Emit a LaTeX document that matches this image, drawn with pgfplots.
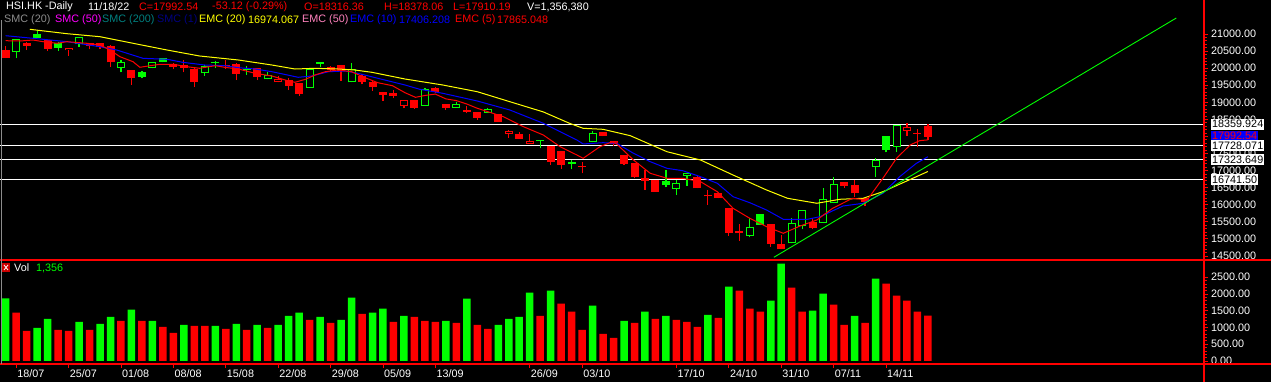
\documentclass[border=0pt]{standalone}
\usepackage{fontspec}
\setmainfont{Liberation Sans}
\usepackage{pgfplots}
\pgfplotsset{compat=1.18}
\usepackage{pgfplotstable}
\definecolor{cg}{RGB}{0,255,0}
\definecolor{cr}{RGB}{255,0,0}
\definecolor{cy}{RGB}{255,255,0}
\definecolor{cb}{RGB}{0,0,255}
\definecolor{cgray}{RGB}{140,140,140}
\definecolor{cmag}{RGB}{255,0,255}
\definecolor{cteal}{RGB}{0,128,128}
\definecolor{cnavy}{RGB}{0,0,128}
\definecolor{cpink}{RGB}{255,130,190}
\newcommand\ff{\fontsize{10.8}{12}\selectfont}

% candles: i open high low close
\pgfplotstableread{
i o h l c
0 20530 20650 20290 20290
2 20746 20756 20531 20658
4 20824 20824 20502 20561
8 20746 20746 20551 20649
9 20746 20746 20561 20619
10 20658 20678 20043 20170
12 19946 19946 19507 19702
16 20112 20151 19965 20043
17 20092 20239 19877 20014
18 19975 19995 19458 19604
21 20090 20239 19975 20060
22 20122 20141 19653 19829
24 19995 20014 19653 19751
27 19653 19702 19360 19487
28 19575 19575 19194 19243
31 20034 20063 19917 19946
32 20092 20092 19624 19917
34 19770 19819 19526 19604
35 19604 19653 19341 19458
36 19292 19292 19048 19214
37 19272 19360 19116 19185
39 19058 19058 18814 18843
41 19409 19458 19263 19312
42 18950 18950 18775 18843
44 18775 18892 18677 18716
45 18716 18716 18482 18550
47 18658 18658 18433 18433
49 18082 18140 17926 17926
52 17721 17721 17164 17262
53 17574 17574 17057 17164
55 17106 17242 16920 17096
57 18140 18140 18003 18023
58 17867 17867 17720 17769
59 17457 17457 17164 17193
60 17232 17232 16774 16803
61 16774 17018 16432 16705
62 16725 16725 16383 16383
66 16803 16871 16481 16481
67 16266 16432 15993 16246
68 16334 16334 16190 16207
69 15915 15915 15085 15183
70 15241 15437 14949 15163
73 15437 15437 14773 14851
74 14851 15114 14695 14695
77 15505 15602 15280 15329
80 16676 16676 16500 16549
81 16578 16725 16217 16334
82 16188 16188 15963 16090
87 18100 18208 17700 18072
88 18316 18378 17910 17993
}\rf
\pgfplotstableread{
i o h l c
3 20990 21117 20873 20893
5 20727 20775 20512 20600
13 19897 19917 19702 19751
15 20287 20307 20170 20190
20 20190 20219 20014 20150
23 19975 20063 19800 19936
30 20170 20170 20043 20131
51 17890 17896 17652 17870
63 16705 17018 16510 16578
72 15729 15729 15407 15407
84 18013 18013 17530 17603
}\gf
\pgfplotstableread{
i o h l c
1 20483 20844 20288 20844
7 20697 20922 20629 20902
11 20014 20239 19877 20170
14 20014 20190 19995 20170
19 19848 20092 19780 20073
25 19673 19878 19673 19800
29 19429 19995 19429 19965
33 19585 20141 19585 19975
40 18902 19409 18902 19380
43 18843 18999 18843 18941
46 18697 18843 18697 18794
54 17184 17311 17038 17243
56 17828 18170 17828 18091
64 16461 16725 16285 16627
65 16842 16920 16549 16920
71 15095 15602 15046 15339
75 14870 15602 14870 15456
76 15378 15846 15280 15846
78 15456 16481 15456 16159
79 16042 16803 16042 16608
83 17115 17359 16822 17310
85 17681 18335 17553 18335
}\gh
\pgfplotstableread{
i o h l c
6 20522 20600 20365 20600
26 19585 19780 19585 19683
38 18902 19058 18824 19058
48 18082 18189 17965 18160
50 17789 18062 17789 17867
86 18169 18384 18023 18266
}\rh
% volume
\pgfplotstableread{
i v
0 1870
3 990
4 1260
7 1170
9 1110
10 1320
12 1530
14 1200
17 1080
20 1050
22 1110
24 1080
26 1080
27 1350
28 1440
30 1320
32 1230
33 1890
35 1440
36 1560
38 1350
42 1200
44 1860
47 1080
48 1260
49 1320
50 2040
52 2100
56 1650
59 1200
61 1470
63 1350
67 1380
69 2220
73 1800
74 2910
77 1500
78 2010
81 1350
83 2460
}\vg
\pgfplotstableread{
i v
1 1440
2 900
5 930
6 900
8 930
11 1200
13 1200
15 1020
16 840
18 1050
19 1050
21 960
23 930
25 990
29 1230
31 1140
34 1410
37 1170
39 1320
40 1200
41 1170
43 1140
45 1080
46 960
51 1350
53 1710
54 1470
55 930
57 810
58 690
60 1140
62 1260
64 1230
65 1170
66 1020
68 1290
70 2100
71 1560
72 1470
75 2190
76 1470
79 1680
80 1080
82 1140
84 2310
85 1950
86 1800
87 1470
88 1356
}\vr

\pgfplotsset{
  wick/.style={draw=none, mark=none, forget plot,
    error bars/.cd, y dir=plus, y explicit, error mark=none,
    error bar style={draw=#1, line width=1.2pt}},
  body/.style={draw=none, mark=none, forget plot,
    error bars/.cd, y dir=plus, y explicit, error mark=none,
    error bar style={draw=#1, line width=8pt}},
  inner/.style={draw=none, mark=none, forget plot,
    error bars/.cd, y dir=plus, y explicit, error mark=none,
    error bar style={draw=black, line width=6pt}},
}

\begin{document}
\begin{tikzpicture}
\fill[black] (0,0) rectangle (1271pt,382pt);
\path[use as bounding box] (0,0) rectangle (1271pt,382pt);
\clip (0,0) rectangle (1271pt,382pt);

% ---------------- price panel ----------------
\begin{axis}[
  at={(0pt,122pt)}, anchor=south west, scale only axis,
  width=1204pt, height=260pt,
  xmin=-0.544, xmax=114.34, ymin=14382, ymax=21996,
  axis x line=none, axis y line*=right,
  axis line style={-, draw=cr, line width=2pt},
  tick align=outside, major tick length=4pt, minor tick length=2.5pt,
  tick style={draw=cr, line width=0.8pt},
  ytick={14500,15000,...,21000},
  yticklabels={14500.00,15000.00,15500.00,16000.00,16500.00,17000.00,17500.00,18000.00,18500.00,19000.00,19500.00,20000.00,20500.00,21000.00},
  minor y tick num=4,
  yticklabel style={text=white, font=\ff, anchor=west, inner sep=0pt, xshift=3pt},
]
% support/resistance lines
\addplot[white, line width=1pt, forget plot] coordinates {(-1,18359.924) (114.34,18359.924)};
\addplot[white, line width=1pt, forget plot] coordinates {(-1,17728.071) (114.34,17728.071)};
\addplot[white, line width=1pt, forget plot] coordinates {(-1,17323.649) (114.34,17323.649)};
\addplot[white, line width=1pt, forget plot] coordinates {(-1,16741.50) (114.34,16741.50)};

% wicks
\addplot[wick=cr] table[x=i, y=l, y error expr=\thisrow{h}-\thisrow{l}] {\rf};
\addplot[wick=cg] table[x=i, y=l, y error expr=\thisrow{h}-\thisrow{l}] {\gf};
\addplot[wick=cg] table[x=i, y=l, y error expr=\thisrow{h}-\thisrow{l}] {\gh};
\addplot[wick=cr] table[x=i, y=l, y error expr=\thisrow{h}-\thisrow{l}] {\rh};
% bodies
\addplot[body=cr] table[x=i, y expr={min(\thisrow{o},\thisrow{c})}, y error expr={max(abs(\thisrow{o}-\thisrow{c}),30)}] {\rf};
\addplot[body=cg] table[x=i, y expr={min(\thisrow{o},\thisrow{c})}, y error expr={max(abs(\thisrow{o}-\thisrow{c}),30)}] {\gf};
\addplot[body=cg] table[x=i, y expr={min(\thisrow{o},\thisrow{c})}, y error expr={max(abs(\thisrow{o}-\thisrow{c}),30)}] {\gh};
\addplot[body=cr] table[x=i, y expr={min(\thisrow{o},\thisrow{c})}, y error expr={max(abs(\thisrow{o}-\thisrow{c}),30)}] {\rh};
\addplot[inner] table[x=i, y expr={min(\thisrow{o},\thisrow{c})+30}, y error expr={max(abs(\thisrow{o}-\thisrow{c})-60,0)}] {\gh};
\addplot[inner] table[x=i, y expr={min(\thisrow{o},\thisrow{c})+30}, y error expr={max(abs(\thisrow{o}-\thisrow{c})-60,0)}] {\rh};

% EMC (20)
\addplot[cy, line width=1pt] coordinates {(2.3,21138) (5.85,21009) (9.0,20921) (12.15,20728) (15.4,20531) (18.5,20356) (22.2,20239) (25.4,20092) (27.6,19975) (29.5,19996) (31.7,19975) (33.3,19946) (34.95,19878) (38.1,19682) (41.7,19507) (45.0,19310) (48.1,19018) (51.3,18718) (53.8,18385) (55.1,18238) (57.0,18209) (59.6,18022) (63.1,17553) (66.3,17310) (69.4,16871) (72.6,16432) (74.6,16189) (77.4,16043) (79.6,16160) (81.8,16189) (83.7,16382) (88,16974)};
% EMC (10)
\addplot[cb, line width=1pt] coordinates {(0,20950) (2.6,20874) (5.85,20775) (9.0,20628) (10.6,20531) (13.1,20288) (15.4,20259) (16.9,20171) (19.0,20092) (20.9,20072) (22.2,20013) (23.8,19975) (25.4,19896) (26.9,19799) (27.9,19732) (29.2,19770) (30.8,19896) (32.4,19917) (33.6,19849) (35.5,19703) (38.1,19507) (39.5,19381) (41.7,19264) (45.0,19038) (48.1,18775) (51.3,18385) (54.5,17896) (55.1,17780) (57.0,17817) (58.3,17800) (59.9,17507) (61.5,17261) (63.1,17067) (64.6,16997) (66.3,16821) (67.9,16628) (69.4,16236) (71.0,16060) (72.6,15846) (74.2,15574) (76.5,15574) (77.7,15650) (79.9,15963) (81.8,16042) (83.7,16335) (85.3,16821) (86.9,17214) (88,17407)};
% EMC (5)
\addplot[cr, line width=1pt] coordinates {(0,20804) (1.36,20795) (2.6,20824) (3.56,20775) (4.9,20728) (5.85,20775) (7.76,20728) (9.0,20678) (9.95,20531) (10.9,20335) (12.15,20189) (12.8,20025) (13.8,20072) (14.7,20113) (16.0,20113) (17.3,20042) (18.5,19996) (20.0,20072) (20.9,20025) (22.2,19975) (23.8,19849) (25.4,19770) (26.9,19632) (27.6,19586) (28.6,19673) (29.5,19799) (30.5,19896) (31.7,19946) (33.0,19896) (34.3,19720) (35.5,19574) (36.9,19486) (38.1,19281) (39.1,19146) (40.0,19200) (41,19240) (42,19100) (43,19050) (44,18950) (45,18824) (47.5,18578) (49.4,18285) (51.3,18042) (52.9,17700) (54.5,17457) (55.1,17360) (56.7,17700) (57.9,17846) (58.3,17780) (59.9,17310) (61.5,16921) (63.1,16775) (64.6,16775) (66.3,16675) (67.9,16382) (69.4,15896) (71.0,15603) (72.6,15357) (74.2,15164) (75.8,15378) (77.4,15554) (78.9,15896) (80.8,16189) (82.2,16139) (83.7,16775) (85.0,17360) (86.3,17750) (87.2,17876) (88,17900)};
% trend line
\addplot[cg, line width=0.9pt] coordinates {(73.3,14461) (111.7,21469)};
\end{axis}

% ---------------- volume panel ----------------
\begin{axis}[
  at={(0pt,18pt)}, anchor=south west, scale only axis,
  width=1204pt, height=103pt,
  xmin=-0.544, xmax=114.34, ymin=-90, ymax=2985,
  axis x line*=bottom, axis y line*=right,
  axis line style={-, draw=cr, line width=2pt},
  tick align=outside, major tick length=4pt, minor tick length=2.5pt,
  tick style={draw=cr, line width=0.8pt},
  ytick={0,500,...,2500},
  yticklabels={0.00,500.00,1000.00,1500.00,2000.00,2500.00},
  minor y tick num=4,
  yticklabel style={text=white, font=\ff, anchor=west, inner sep=0pt, xshift=3pt},
  xtick={1,6,11,16,21,26,31,36,41,50,55,64,69,74,79,84},
  xticklabels={18/07,25/07,01/08,08/08,15/08,22/08,29/08,05/09,13/09,26/09,03/10,17/10,24/10,31/10,07/11,14/11},
  xticklabel style={text=white, font=\ff, anchor=north west, inner sep=0pt, xshift=1pt, yshift=-1pt},
]
\addplot[ybar, bar width=7.5pt, fill=cg, draw=none] table[x=i, y=v] {\vg};
\addplot[ybar, bar width=7.5pt, fill=cr, draw=none] table[x=i, y=v] {\vr};
\end{axis}

% frame lines
\draw[cr, line width=1.5pt] (0,122pt) -- (1271pt,122pt);
\draw[cr, line width=1.5pt] (0,18pt) -- (1271pt,18pt);
\draw[cr, line width=2pt] (1204pt,0) -- (1204pt,382pt);
\draw[cgray, line width=1pt] (1.5pt,18pt) -- (1.5pt,362pt);

% right-hand price boxes
\node[fill=white, text=black, font=\ff, inner sep=1pt, anchor=west, minimum height=11pt] at (1211pt,257.8pt) {18359.924};
\node[fill=cb, text=cr, font=\ff, inner sep=1pt, anchor=west, minimum height=10pt] at (1211pt,246pt) {17992.54};
\node[fill=white, text=black, font=\ff, inner sep=1pt, anchor=west, minimum height=11pt] at (1211pt,236.3pt) {17728.071};
\node[fill=white, text=black, font=\ff, inner sep=1pt, anchor=west, minimum height=11pt] at (1211pt,222.5pt) {17323.649};
\node[fill=white, text=black, font=\ff, inner sep=1pt, anchor=west, minimum height=11pt] at (1211pt,202.6pt) {16741.50};

% header
\begin{scope}[every node/.style={anchor=west, inner sep=0pt, font=\ff}]
\node[text=white] at (6pt,375pt) {HSI.HK -Daily};
\node[text=white] at (88pt,375pt) {11/18/22};
\node[text=cr] at (139pt,375pt) {C=17992.54};
\node[text=cr] at (212pt,375pt) {-53.12 (-0.29\%)};
\node[text=cr] at (304pt,375pt) {O=18316.36};
\node[text=cr] at (384pt,375pt) {H=18378.06};
\node[text=cr] at (453pt,375pt) {L=17910.19};
\node[text=white] at (527pt,375pt) {V=1,356,380};
\node[text=cgray] at (4pt,362pt) {SMC (20)};
\node[text=cmag] at (55pt,362pt) {SMC (50)};
\node[text=cteal] at (102pt,362pt) {SMC (200)};
\node[text=cnavy] at (157pt,362pt) {SMC (1)};
\node[text=cy] at (199pt,362pt) {EMC (20)};
\node[text=cy] at (248pt,362pt) {16974.067};
\node[text=cpink] at (302pt,362pt) {EMC (50)};
\node[text=cb] at (350pt,362pt) {EMC (10)};
\node[text=cb] at (399pt,362pt) {17406.208};
\node[text=cr] at (455pt,362pt) {EMC (5)};
\node[text=cr] at (497pt,362pt) {17865.048};
% volume legend
\node[text=white] at (14pt,114pt) {Vol};
\node[text=cg] at (36pt,114pt) {1,356};
\end{scope}
\fill[cr!80!black] (2pt,110pt) rectangle (10pt,119pt);
\draw[white, line width=0.8pt] (4pt,112pt) -- (8pt,117pt) (4pt,117pt) -- (8pt,112pt);
\end{tikzpicture}
\end{document}
